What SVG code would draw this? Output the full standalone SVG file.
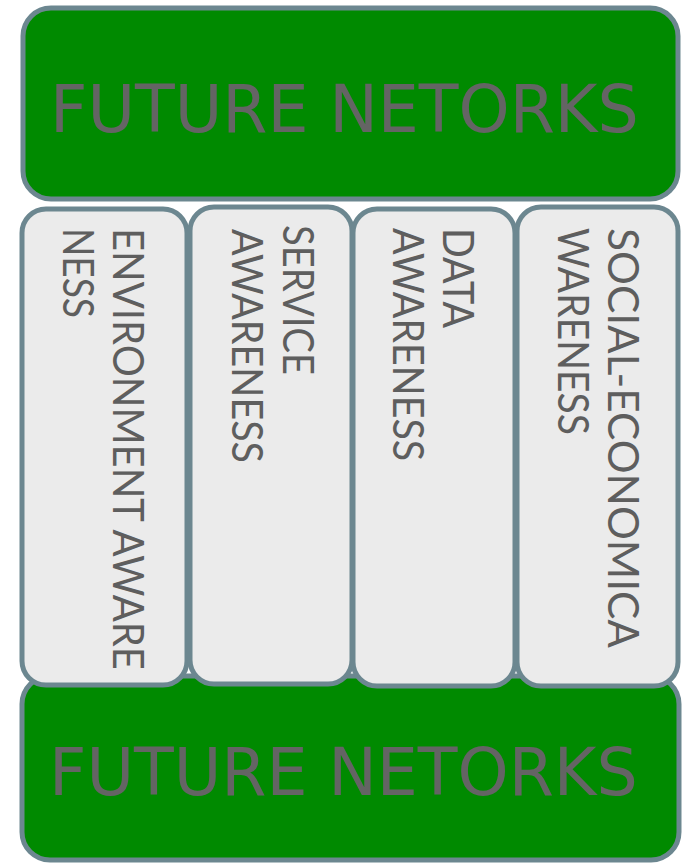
<svg xmlns="http://www.w3.org/2000/svg" width="683" height="865" viewBox="0 0 683 865">
<style>
.net{fill:#008a00;stroke:#6c8790;stroke-width:5}
.col{fill:#ebebeb;stroke:#6c8790;stroke-width:5}
.big{font-family:"DejaVu Sans",sans-serif;font-size:65px;fill:#646464}
.v{font-family:Lato,"Liberation Sans",sans-serif;font-size:42px;fill:#5e5e5e}
</style>
<rect width="683" height="865" fill="#ffffff"/>
<g id="top">
<rect class="net" x="23" y="8" width="655" height="191" rx="28"/>
<text class="big" x="50" y="132">FUTURE NETORKS</text>
</g>
<g id="bottom">
<rect class="net" x="22" y="676" width="657" height="184" rx="28"/>
<text class="big" x="49" y="795">FUTURE NETORKS</text>
</g>
<g id="env">
<rect class="col" x="22" y="209" width="165" height="476" rx="24"/>
<text class="v" transform="translate(113,228) rotate(90)" textLength="442" lengthAdjust="spacingAndGlyphs">ENVIRONMENT AWARE</text>
<text class="v" transform="translate(63,228) rotate(90)" textLength="90" lengthAdjust="spacingAndGlyphs">NESS</text>
</g>
<g id="service">
<rect class="col" x="190" y="207" width="162" height="477" rx="24"/>
<text class="v" transform="translate(283,225) rotate(90)" textLength="150" lengthAdjust="spacingAndGlyphs">SERVICE</text>
<text class="v" transform="translate(232,229) rotate(90)" textLength="234" lengthAdjust="spacingAndGlyphs">AWARENESS</text>
</g>
<g id="data">
<rect class="col" x="353" y="209" width="162" height="477" rx="24"/>
<text class="v" transform="translate(443,228) rotate(90)" textLength="100" lengthAdjust="spacingAndGlyphs">DATA</text>
<text class="v" transform="translate(393,228) rotate(90)" textLength="233" lengthAdjust="spacingAndGlyphs">AWARENESS</text>
</g>
<g id="social">
<rect class="col" x="517" y="207" width="161" height="479" rx="24"/>
<text class="v" transform="translate(608,228) rotate(90)" textLength="420" lengthAdjust="spacingAndGlyphs">SOCIAL-ECONOMICA</text>
<text class="v" transform="translate(558,228) rotate(90)" textLength="207" lengthAdjust="spacingAndGlyphs">WARENESS</text>
</g>
<g id="connectors"></g>
</svg>
